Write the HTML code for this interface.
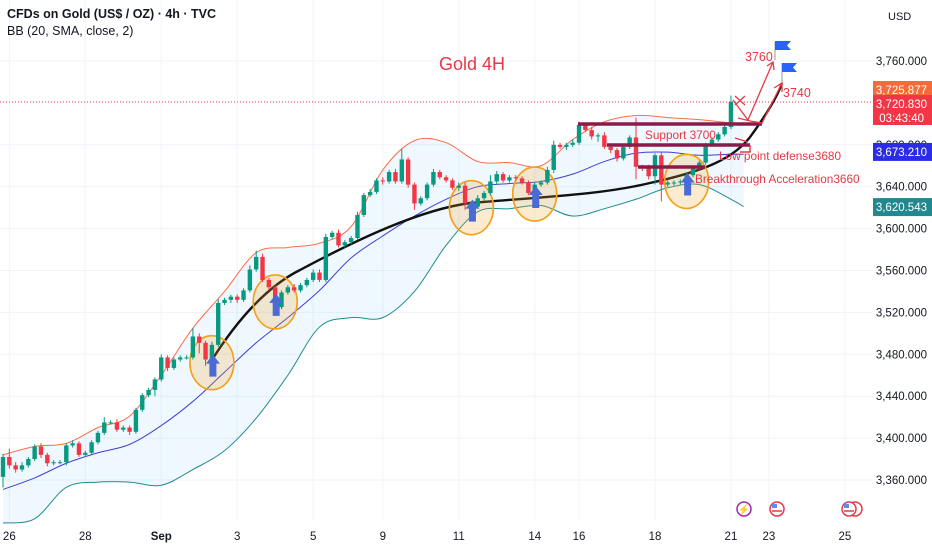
<!DOCTYPE html>
<html><head><meta charset="utf-8">
<style>
html,body{margin:0;padding:0;background:#fff;}
body{width:932px;height:550px;overflow:hidden;font-family:"Liberation Sans",sans-serif;}
svg text{font-family:"Liberation Sans",sans-serif;}
</style></head>
<body>
<svg id="chart" width="932" height="550" viewBox="0 0 932 550" xmlns="http://www.w3.org/2000/svg">
  <rect width="932" height="550" fill="#ffffff"/>
  <g id="grid"></g>
  <g id="bands"></g>
  <line x1="0" y1="102" x2="872" y2="102" stroke="#f23645" stroke-width="1" stroke-dasharray="1,2"/>
  <path d="M210,363 C240,315 270,285 300,270 C360,238 420,210 470,203 C540,197 600,195 650,183 C700,172 735,160 753,133 C768,112 778,95 782,83" fill="none" stroke="#111" stroke-width="2.4"/>
  <g id="circles"></g>
  <g id="candles"></g>
  <g id="levels">
    <line x1="578" y1="124" x2="762" y2="124" stroke="#8b1a4a" stroke-width="3.5"/>
    <line x1="607" y1="145" x2="750" y2="145" stroke="#8b1a4a" stroke-width="3.5"/>
    <line x1="638" y1="167" x2="705" y2="167" stroke="#8b1a4a" stroke-width="3.5"/>
    <polyline points="740,152 750,152 750,145" fill="none" stroke="#e53945" stroke-width="1.5"/>
  </g>
  <g id="arrows" fill="none" stroke="#e53945" stroke-width="1.3">
    <path d="M735,96 L745,105 M745,96 L735,105"/>
    <path d="M733,100 L748,120 L773,62"/>
    <path d="M767,66 L773,62 L774,70"/>
    <path d="M738,118 L750,121"/>
    <path d="M750,121 L762,123 L782,83"/>
    <path d="M774,88 L782,83 L782,92"/>
    <path d="M735,138 L748,142"/>
  </g>
  <g>
    <line x1="775" y1="42" x2="775" y2="60" stroke="#aaa" stroke-width="1.2"/>
    <path d="M775,41 L791,41 L787,45.5 L791,50 L775,50 Z" fill="#2962ff"/>
    <line x1="782" y1="63" x2="782" y2="82" stroke="#aaa" stroke-width="1.2"/>
    <path d="M782,63 L797,63 L793,67.5 L797,72 L782,72 Z" fill="#2962ff"/>
  </g>
  <g fill="#e53945" font-size="12">
    <text x="439" y="70" font-size="18">Gold 4H</text>
    <text x="745" y="61" font-size="12.5">3760</text>
    <text x="783" y="97" font-size="12.5">3740</text>
    <text x="645" y="139" font-size="11.8">Support 3700</text>
    <text x="719" y="160" font-size="11.8">Low point defense3680</text>
    <text x="695" y="183" font-size="11.8">Breakthrough Acceleration3660</text>
  </g>
  <g id="axis"></g>
  <g id="xaxis"></g>
  <g>
    <circle cx="744" cy="509" r="7" fill="#fff" stroke="#9c27b0" stroke-width="1.5"/>
    <text x="744" y="513" font-size="10" fill="#9c27b0" text-anchor="middle">⚡</text>
    <circle cx="777" cy="509" r="7" fill="#fff" stroke="#e53945" stroke-width="1.5"/>
    <rect x="772" y="504" width="5" height="4" fill="#5b8def"/><line x1="772" y1="511" x2="782" y2="511" stroke="#e53945" stroke-width="1.5"/>
    <circle cx="855" cy="509" r="7" fill="#fff" stroke="#e53945" stroke-width="1.5"/>
    <circle cx="849" cy="509" r="7" fill="#fff" stroke="#e53945" stroke-width="1.5"/>
    <rect x="844" y="504" width="5" height="4" fill="#5b8def"/><line x1="844" y1="511" x2="854" y2="511" stroke="#e53945" stroke-width="1.5"/>
  </g>
  <text x="7" y="18" font-size="12.5" font-weight="bold" fill="#131722">CFDs on Gold (US$ / OZ) · 4h · TVC</text>
  <text x="7" y="35" font-size="12.5" fill="#131722">BB (20, SMA, close, 2)</text>
</svg>
<script>
const closes = [3382,3374,3370,3374,3380,3392,3384,3376,3377,3377,
3393,3395,3384,3386,3396,3405,3415,3415,3408,3410,
3406,3427,3441,3446,3456,3477,3467,3475,3477,3477,
3497,3491,3475,3489,3529,3532,3535,3532,3541,3561,
3573,3551,3544,3525,3539,3544,3541,3546,3551,3558,
3551,3592,3596,3584,3587,3591,3613,3632,3635,3646,
3645,3654,3645,3666,3642,3624,3629,3642,3654,3649,
3646,3639,3641,3624,3621,3629,3634,3645,3652,3646,
3649,3648,3644,3634,3642,3644,3656,3680,3678,3680,
3682,3699,3694,3688,3689,3678,3675,3667,3678,3687,
3659,3658,3650,3670,3642,3644,3644,3645,3651,3658,
3663,3680,3685,3690,3697,3721];
const firstOpen = 3363;
const wickUp = [3,8,3,3,2,2,3,2,2,2, 2,3,2,2,2,2,5,2,3,2, 2,2,2,2,2,3,2,2,2,2,
 8,3,2,3,4,2,2,2,2,4, 6,3,2,3,2,2,3,2,2,3, 3,3,2,3,2,2,3,2,3,2,
 3,2,3,10,2,2,2,2,3,2, 2,2,3,3,2,3,2,6,3,2, 2,2,2,2,2,2,3,4,2,2,
 3,3,2,3,2,3,2,2,2,2, 19,2,3,2,3,2,2,2,2,2, 2,2,2,2,3,6];
const wickDn = [10,3,3,2,2,2,3,3,2,2, 3,2,2,2,2,2,2,2,2,2, 3,2,2,2,6,2,3,2,2,2,
 2,10,6,3,2,2,3,3,2,2, 2,2,3,8,2,2,2,2,2,2, 2,2,2,2,2,2,2,2,2,2,
 3,2,2,2,3,6,2,2,2,2, 2,2,3,6,2,2,3,2,3,2, 2,2,2,2,3,2,2,3,2,3,
 2,2,2,3,5,2,3,3,2,2, 12,3,3,8,16,2,3,2,2,2, 2,2,2,2,2,2];
const bandIdx = [0,5,10,15,20,25,30,35,40,45,50,55,60,65,70,75,80,85,90,95,100,105,110,115,117];
const bandUpper = [3384,3392,3395,3410,3421,3460,3505,3540,3577,3582,3586,3602,3656,3684,3682,3664,3663,3660,3685,3702,3708,3706,3704,3701,3701];
const bandMid = [3351,3362,3376,3386,3394,3412,3435,3463,3491,3515,3541,3572,3593,3612,3628,3640,3643,3645,3652,3664,3672,3673,3670,3671,3671];
const bandLower = [3319,3323,3353,3358,3358,3355,3370,3388,3419,3460,3506,3515,3515,3540,3584,3616,3619,3622,3612,3619,3628,3639,3642,3628,3621];
const priceTicks = [3760,3680,3640,3600,3560,3520,3480,3440,3400,3360];
const dateLabels = ["26","28","Sep","3","5","9","11","14","16","18","21","23","25"];
const dateIdx = [1,13,25,37,49,60,72,84,91,103,115,121,133];
const circleIdx = [33,43,74,84,108];
const circlePrice = [3472,3530,3620,3633,3645];
const markers = [
  {label:"3,725.877", price:3725.877, color:"#f26b38"},
  {label:"3,720.830", price:3720.83, color:"#f23645"},
  {label:"3,673.210", price:3673.21, color:"#2b2be8"},
  {label:"3,620.543", price:3620.543, color:"#22888f"}];

const NS = "http://www.w3.org/2000/svg";
function xOf(i){ return 3 + i*6.33; }
function yOf(p){ return 480 - (p-3360)*1.0475; }
function mk(tag, attrs, parent){
  const e = document.createElementNS(NS, tag);
  for (const k in attrs) e.setAttribute(k, attrs[k]);
  parent.appendChild(e); return e;
}
function smooth(pts, move){
  let d = move ? 'M'+pts[0][0]+','+pts[0][1] : 'L'+pts[0][0]+','+pts[0][1];
  for (let k=0;k<pts.length-1;k++){
    const p0 = pts[Math.max(0,k-1)], p1 = pts[k], p2 = pts[k+1], p3 = pts[Math.min(pts.length-1,k+2)];
    const c1 = [p1[0]+(p2[0]-p0[0])/6, p1[1]+(p2[1]-p0[1])/6];
    const c2 = [p2[0]-(p3[0]-p1[0])/6, p2[1]-(p3[1]-p1[1])/6];
    d += 'C'+c1[0]+','+c1[1]+' '+c2[0]+','+c2[1]+' '+p2[0]+','+p2[1];
  }
  return d;
}
const grid = document.getElementById('grid');
priceTicks.forEach(p=>{
  const l = mk('line',{x1:0,x2:872,y1:yOf(p),y2:yOf(p),stroke:'#f0f3fa','stroke-width':1},grid);
  
  
});
dateIdx.forEach(i=>{
  const l = mk('line',{x1:xOf(i),x2:xOf(i),y1:0,y2:520,stroke:'#f0f3fa','stroke-width':1},grid);
  
  
});
// bands
const bands = document.getElementById('bands');
const upPts = bandIdx.map((i,k)=>[xOf(i), yOf(bandUpper[k])]);
const midPts = bandIdx.map((i,k)=>[xOf(i), yOf(bandMid[k])]);
const loPts = bandIdx.map((i,k)=>[xOf(i), yOf(bandLower[k])]);
const bf = mk('path',{d:smooth(upPts,true)+smooth(loPts.slice().reverse(),false)+'Z',fill:'rgba(33,150,243,0.07)'},bands);


function bandLine(pts,color,name){
  const pl = mk('path',{d:smooth(pts,true),fill:'none',stroke:color,'stroke-width':1},bands);
  
  
}
bandLine(upPts,'#f7704a','band-upper');
bandLine(midPts,'#3f3fd6','band-basis');
bandLine(loPts,'#1f8c8c','band-lower');
// circles
const cg = document.getElementById('circles');
circleIdx.forEach((i,k)=>{
  const cx = xOf(i), cy = yOf(circlePrice[k]);
  const e = mk('ellipse',{cx:cx,cy:cy,rx:22,ry:27,fill:'rgba(245,166,35,0.22)',stroke:'#f5a017','stroke-width':1.6},cg);
  
  
});
// candles
const cd = document.getElementById('candles');
closes.forEach((c,i)=>{
  const o = i ? closes[i-1] : firstOpen;
  const hi = Math.max(o,c)+wickUp[i], lo = Math.min(o,c)-wickDn[i];
  const col = c>=o ? '#089981' : '#f23645';
  const x = xOf(i);
  const w = mk('line',{x1:x,x2:x,y1:yOf(hi),y2:yOf(lo),stroke:col,'stroke-width':1},cd);
  
  
  const yt = yOf(Math.max(o,c)), yb = yOf(Math.min(o,c));
  const b = mk('rect',{x:x-2.2,y:yt,width:4.4,height:Math.max(1,yb-yt),fill:col},cd);
  
  
});
// blue up arrows
circleIdx.forEach((i,k)=>{
  const cx = xOf(i)+1, cy = yOf(circlePrice[k])+2;
  const a = mk('path',{d:`M${cx},${cy-10} L${cx+7},${cy-1} L${cx+3.5},${cy-1} L${cx+3.5},${cy+12} L${cx-3.5},${cy+12} L${cx-3.5},${cy-1} L${cx-7},${cy-1} Z`,fill:'#4a6bd6'},cg.parentNode);
  
  
});
// price axis
const ax = document.getElementById('axis');
const bg = mk('rect',{x:872,y:0,width:60,height:550,fill:'#fff'},ax);


const usd = mk('text',{x:888,y:20,'font-size':11,fill:'#131722'},ax);
usd.textContent='USD';


priceTicks.forEach(p=>{
  const t = mk('text',{x:927,y:yOf(p)+4,'font-size':11.5,fill:'#131722','text-anchor':'end'},ax);
  t.textContent = p.toLocaleString('en-US')+'.000';
  
  
});
markers.forEach((m,k)=>{
  const y = yOf(m.price);
  let top = y-9, h = 18;
  if (k===0) top = 81;
  if (k===1){ top = 95; h = 30; }
  const r = mk('rect',{x:873,y:top,width:59,height:h,fill:m.color},ax);
  
  
  const t = mk('text',{x:927,y:top+13,'font-size':11.5,fill:'#fff','text-anchor':'end'},ax);
  t.textContent = m.label;
  
  
  if (k===1){
    const t2 = mk('text',{x:924,y:top+27,'font-size':11.5,fill:'#fff','text-anchor':'end'},ax);
    t2.textContent = '03:43:40';
    
    
  }
});
// time axis
const xa = document.getElementById('xaxis');
dateLabels.forEach((d,k)=>{
  const t = mk('text',{x:xOf(dateIdx[k]),y:540,'font-size':11.5,fill:'#131722','text-anchor':'middle','font-weight':d==='Sep'?'bold':'normal'},xa);
  t.textContent = d;
  
  
});
</script>
</body></html>
